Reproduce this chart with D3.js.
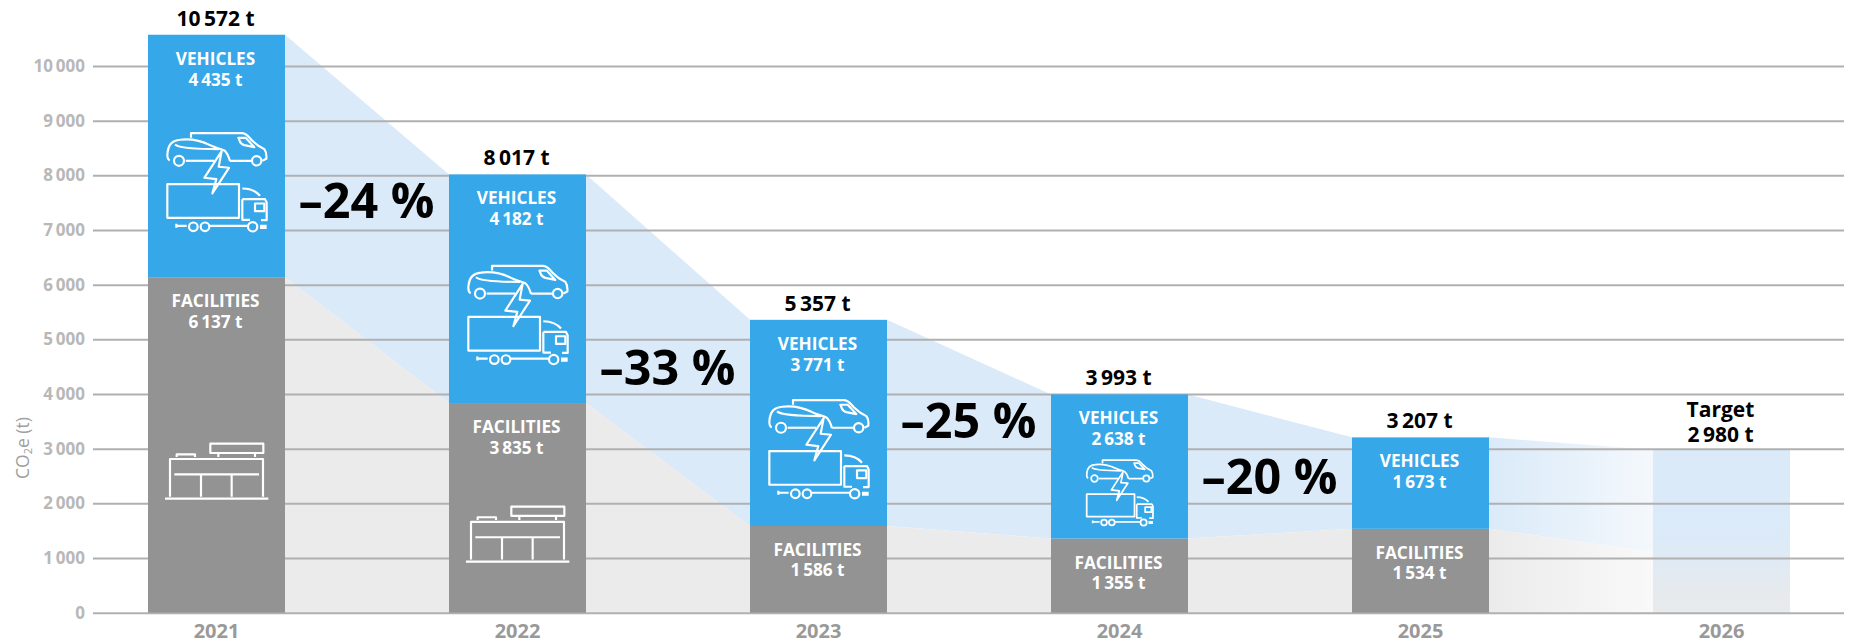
<!DOCTYPE html>
<html><head><meta charset="utf-8">
<script src="https://cdn.jsdelivr.net/npm/d3@7/dist/d3.min.js"></script>
<style>html,body{margin:0;padding:0;background:#fff}svg{display:block}text{font-family:"Open Sans",sans-serif}</style>
</head><body><svg id="c" width="1856" height="643"></svg>
<script>
const years = ["2021","2022","2023","2024","2025","2026"];
const facilities = [6137,3835,1586,1355,1534];
const vehicles = [4435,4182,3771,2638,1673];
const totals = [10572,8017,5357,3993,3207];
const targetTotal = 2980;
const targetFacilities = 1110;
const changes = ["–24 %","–33 %","–25 %","–20 %"];
const changeLevels = [7220,4165,3196,2171];
const yTicks = [0,1000,2000,3000,4000,5000,6000,7000,8000,9000,10000];
const vehicleIconScale = [1,1,1,0.667];
const facilityIconScale = [1,1];

const BLUE="#36a7e9",GREY="#939393",LBLUE="#daeaf9",LGREY="#ebebeb",GRID="#b0b0b0";
const svg=d3.select("#c");
const x=d3.scaleBand().domain(years).range([148,1790]).paddingInner(164/301).paddingOuter(0);
const y=d3.scaleLinear().domain([0,10000]).range([612.7,66]);
const fmt=d3.formatLocale({decimal:".",thousands:"\u2009",grouping:[3],currency:["",""]}).format(",d");
const t=v=>fmt(v)+" t";
const cx=i=>x(years[i])+x.bandwidth()/2;

const defs=svg.append("defs");
function grad(id,x2,y2,stops){const g=defs.append("linearGradient").attr("id",id).attr("x1",0).attr("y1",0).attr("x2",x2).attr("y2",y2);
 stops.forEach(s=>g.append("stop").attr("offset",s[0]).attr("stop-color",s[1]));}
grad("fadeBlue",1,0,[[0,LBLUE],[1,"#f4f8fc"]]);
grad("fadeGrey",1,0,[[0,LGREY],[1,"#f9f9f9"]]);
grad("targetFill",0,1,[[0,LBLUE],[0.55,"#dceaf8"],[0.9,"#e7eaed"],[1,"#e8eaec"]]);

// connecting bands
const area=d3.area().x(d=>d.x).y0(d=>y(d.lo)).y1(d=>y(d.hi));
const allTotals=[...totals,targetTotal], allFac=[...facilities,targetFacilities];
for(let i=0;i<5;i++){
  const x0=x(years[i])+x.bandwidth(), x1=x(years[i+1]);
  const fb=i===4?"url(#fadeBlue)":LBLUE, fg=i===4?"url(#fadeGrey)":LGREY;
  svg.append("path").attr("fill",fb).attr("d",area([{x:x0,lo:facilities[i],hi:totals[i]},{x:x1,lo:allFac[i+1],hi:allTotals[i+1]}]));
  svg.append("path").attr("fill",fg).attr("d",area([{x:x0,lo:0,hi:facilities[i]},{x:x1,lo:0,hi:allFac[i+1]}]));
}
// target bar
svg.append("rect").attr("x",x("2026")).attr("width",x.bandwidth()).attr("y",y(targetTotal)).attr("height",y(0)-y(targetTotal)).attr("fill","url(#targetFill)");

// axis + grid
const ax=svg.append("g").attr("transform","translate(93,0)")
 .call(d3.axisLeft(y).tickValues(yTicks).tickSize(-1751).tickPadding(8).tickFormat(fmt));
ax.select(".domain").remove();
ax.selectAll(".tick line").attr("stroke",GRID).attr("stroke-width",2);
ax.selectAll(".tick text").attr("fill","#b8b8b8").attr("font-size",17).attr("font-weight",700).attr("font-family",'"Open Sans",sans-serif').attr("x",-8);

// bars
const idx=d3.range(5);
svg.selectAll("rect.f").data(idx).join("rect").attr("class","f").attr("x",i=>x(years[i])).attr("width",x.bandwidth())
 .attr("y",i=>y(facilities[i])).attr("height",i=>y(0)-y(facilities[i])).attr("fill",GREY);
svg.selectAll("rect.v").data(idx).join("rect").attr("class","v").attr("x",i=>x(years[i])).attr("width",x.bandwidth())
 .attr("y",i=>y(totals[i])).attr("height",i=>y(facilities[i])-y(totals[i])).attr("fill",BLUE);

// text
function txt(px,py,s,size,weight,fill,anchor){return svg.append("text").attr("x",px).attr("y",py).attr("font-size",size).attr("font-weight",weight).attr("fill",fill).attr("text-anchor",anchor||"middle").text(s);}
idx.forEach(i=>{
  const c=cx(i);
  txt(c-1,y(totals[i])-9,t(totals[i]),21,700,"#000");
  txt(c-1,y(totals[i])+30,"VEHICLES",17.2,700,"#fff");
  txt(c-1,y(totals[i])+51,t(vehicles[i]),17.2,700,"#fff");
  txt(c-1,y(facilities[i])+30,"FACILITIES",17.2,700,"#fff");
  txt(c-1,y(facilities[i])+50.5,t(facilities[i]),17.2,700,"#fff");
});
years.forEach((yr,i)=>txt(cx(i),638,yr,20,700,"#999"));
changes.forEach((s,i)=>txt((x(years[i])+x.bandwidth()+x(years[i+1]))/2-0.5,y(changeLevels[i]),s,48.5,700,"#000"));
txt(cx(5)-1,y(targetTotal)-33,"Target",21,700,"#000");
txt(cx(5)-1,y(targetTotal)-8,t(targetTotal),21,700,"#000");
const yl=svg.append("text").attr("transform","translate(28.5,448) rotate(-90)").attr("text-anchor","middle").attr("font-size",17.5).attr("fill","#a0a0a0");
yl.append("tspan").text("CO");
yl.append("tspan").text("2").attr("font-size",11).attr("dy",3);
yl.append("tspan").text("e (t)").attr("dy",-3);

// icons (drawn in a 375 unit wide sheet, 3 units per pixel)
const vehicleIcon=[
 "M44 106C36 102 36 92 38 80C40 60 52 46 75 44C110 40 135 45 165 60C178 67 195 70 208 76C218 84 222 98 225 108",
 "M60 58C72 68 130 72 192 72",
 "M92 107H178","M225 107H288M322 107L334 101C335 90 334 80 328 72L310 62L290 45C280 35 275 24 260 24H108V38",
 "M250 38H272L298 66L268 60C252 56 256 48 250 38Z",
 "M200 78L148 158L184 162L172 205L222 128L191 125Z",
 "M37 177H252V278H37Z","M262 190C285 190 305 200 315 212","M262 222H330L335 232V285H318M262 222V284H285",
 "M300 235H328V258H300Z","M64 296V308M64 302H95","M165 302H278","M315 302H335M315 308H335"];
const vehicleWheels=[[72,107,15],[305,107,14],[115,305,13],[150,305,13],[293,305,14]];
const facilityIcon=["M45 185V72H324V185","M58 118H312","M138 118V185M230 118V185","M30 191H340","M166 26H325V54H166Z","M190 54V66M300 54V66","M65 66V58H120V66"];
function placeIcon(i,centerY,scale,paths,wheels,sheetCy){
  const k=scale/3;
  const g=svg.append("g").attr("transform",`translate(${cx(i)-184.5*k},${centerY-sheetCy*k}) scale(${k})`)
    .attr("fill","none").attr("stroke","#fff").attr("stroke-width",6.5/scale*Math.max(scale,.8)).attr("stroke-linejoin","round");
  g.selectAll("path").data(paths).join("path").attr("d",d=>d);
  g.selectAll("circle").data(wheels).join("circle").attr("cx",d=>d[0]).attr("cy",d=>d[1]).attr("r",d=>d[2]);
}
vehicleIconScale.forEach((s,i)=>placeIcon(i,(y(totals[i])+y(facilities[i]))/2+26.5,s,vehicleIcon,vehicleWheels,172));
facilityIconScale.forEach((s,i)=>placeIcon(i,(y(facilities[i])+y(0))/2+26.7,s,facilityIcon,[],110));
</script></body></html>
